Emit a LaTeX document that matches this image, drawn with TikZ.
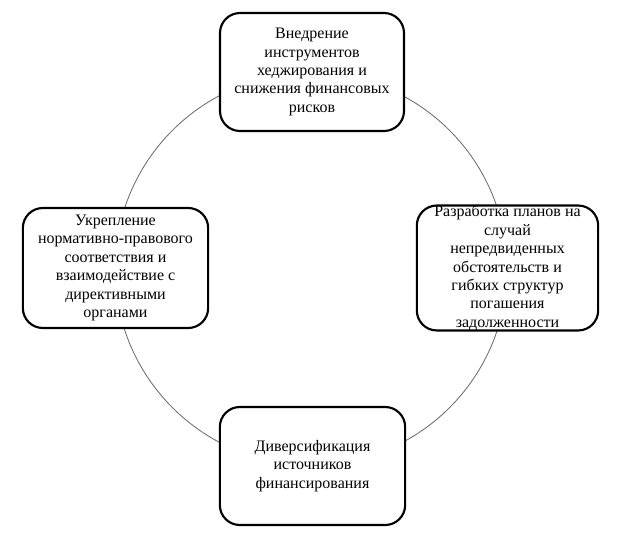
\documentclass[tikz,border=0pt]{standalone}
\usepackage{fontspec}
\setmainfont{Liberation Serif}
\begin{document}
\begin{tikzpicture}[x=0.75pt,y=-0.75pt,
  stagebox/.style={draw=black, line width=1.6pt, rounded corners=15pt, fill=white,
    align=center, font=\fontsize{12}{13.8}\selectfont, inner sep=0pt},
  ring/.style={draw=black!60, line width=0.6pt}]
\useasboundingbox (0,0) rectangle (625,536);
\coordinate (c) at (311,269);
\draw[ring] (c) circle[radius=147pt];
\node[stagebox, minimum width=138pt, minimum height=88.5pt] (top) at (312,72)
  {Внедрение\\инструментов\\хеджирования и\\снижения финансовых\\рисков};
\node[stagebox, minimum width=136pt, minimum height=90pt] (right) at (507.5,268)
  {Разработка планов на\\случай\\непредвиденных\\обстоятельств и\\гибких структур\\погашения\\задолженности};
\node[stagebox, minimum width=139pt, minimum height=90pt] (left) at (115.5,268)
  {Укрепление\\нормативно-правового\\соответствия и\\взаимодействие с\\директивными\\органами};
\node[stagebox, minimum width=139pt, minimum height=88.5pt] (bottom) at (312.5,466)
  {Диверсификация\\источников\\финансирования};
\end{tikzpicture}
\end{document}
